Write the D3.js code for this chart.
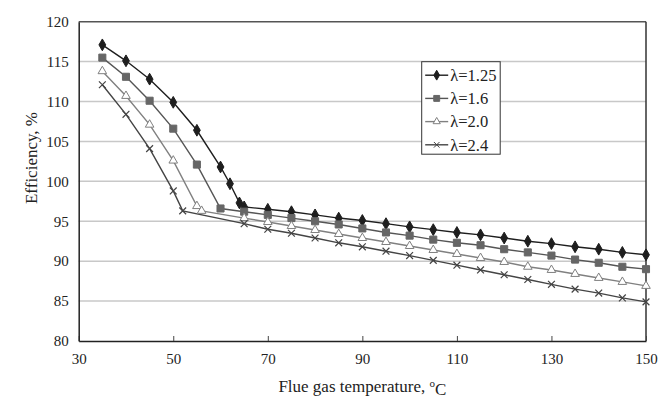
<!DOCTYPE html>
<html>
<head>
<meta charset="utf-8">
<script src="https://cdn.jsdelivr.net/npm/d3@7"></script>
<style>
    body { margin: 0; background: #fff; }
    svg text { font-family: "Liberation Serif", "Times New Roman", serif; fill: #222; }
</style>
</head>
<body>
<svg id="chart" width="659" height="399"></svg>
<script>
// temperatures (x) for each series
var temps125 = [35, 40, 45, 50, 55, 60, 62, 64, 65, 70, 75, 80, 85, 90, 95, 100, 105, 110, 115, 120, 125, 130, 135, 140, 145, 150];
var temps16  = [35, 40, 45, 50, 55, 60, 65, 70, 75, 80, 85, 90, 95, 100, 105, 110, 115, 120, 125, 130, 135, 140, 145, 150];
var temps20  = [35, 40, 45, 50, 55, 56, 65, 70, 75, 80, 85, 90, 95, 100, 105, 110, 115, 120, 125, 130, 135, 140, 145, 150];
var temps24  = [35, 40, 45, 50, 52, 65, 70, 75, 80, 85, 90, 95, 100, 105, 110, 115, 120, 125, 130, 135, 140, 145, 150];

// efficiency (%) values
var eff125 = [117.1, 115.1, 112.8, 109.9, 106.4, 101.8, 99.7, 97.3, 96.8, 96.5, 96.2, 95.8, 95.4, 95.1, 94.7, 94.3, 93.95, 93.6, 93.3, 92.9, 92.5, 92.2, 91.8, 91.5, 91.1, 90.8];
var eff16  = [115.5, 113.1, 110.1, 106.6, 102.1, 96.6, 96.2, 95.8, 95.4, 95.0, 94.6, 94.1, 93.6, 93.2, 92.7, 92.3, 92.0, 91.5, 91.1, 90.7, 90.2, 89.8, 89.3, 89.0];
var eff20  = [113.8, 110.7, 107.1, 102.6, 96.9, 96.3, 95.4, 94.9, 94.4, 93.9, 93.4, 92.9, 92.4, 91.9, 91.4, 90.9, 90.4, 89.9, 89.3, 88.9, 88.4, 87.9, 87.4, 86.9];
var eff24  = [112.1, 108.4, 104.1, 98.8, 96.3, 94.7, 94.0, 93.5, 92.9, 92.3, 91.8, 91.25, 90.7, 90.1, 89.5, 88.9, 88.3, 87.7, 87.1, 86.5, 86.0, 85.4, 84.9];

var seriesNames = ["\u03bb=1.25", "\u03bb=1.6", "\u03bb=2.0", "\u03bb=2.4"];
var xTicks = [30, 50, 70, 90, 110, 130, 150];
var yTicks = [80, 85, 90, 95, 100, 105, 110, 115, 120];

var serif = "'Liberation Serif', 'Times New Roman', serif";
var margin = {top: 21.7, right: 13, bottom: 58, left: 78.7};
var width = 659 - margin.left - margin.right;
var height = 399 - margin.top - margin.bottom;

var series = [
    {name: seriesNames[0], x: temps125, y: eff125, line: "#1e1e1e", symbol: d3.symbolDiamond, size: 40, fill: "#1e1e1e", stroke: "#1e1e1e"},
    {name: seriesNames[1], x: temps16,  y: eff16,  line: "#555",    symbol: d3.symbolSquare,  size: 50, fill: "#666",    stroke: "#666"},
    {name: seriesNames[2], x: temps20,  y: eff20,  line: "#808080", symbol: d3.symbolTriangle, size: 32, fill: "#fff",   stroke: "#808080"},
    {name: seriesNames[3], x: temps24,  y: eff24,  line: "#444",    symbol: d3.symbolX,       size: 32, fill: "none",    stroke: "#444"}
];

var xScale = d3.scaleLinear().domain([30, 150]).range([0, width]);
var yScale = d3.scaleLinear().domain([80, 120]).range([height, 0]);

var svg = d3.select("#chart");
var g = svg.append("g")
    .attr("transform", "translate(" + margin.left + "," + margin.top + ")");

// horizontal gridlines
g.selectAll(".grid")
    .data(yTicks.slice(1, -1))
    .enter().append("line")
    .attr("class", "grid")
    .attr("x1", 0).attr("x2", width)
    .attr("y1", d => yScale(d)).attr("y2", d => yScale(d))
    .style("stroke", "#c8c8c8").style("stroke-width", 1.5);

// frame (top and right)
g.append("line").attr("x1", 0).attr("x2", width).attr("y1", 0).attr("y2", 0)
    .style("stroke", "#555").style("stroke-width", 1.5);
g.append("line").attr("x1", width).attr("x2", width).attr("y1", 0).attr("y2", height)
    .style("stroke", "#333").style("stroke-width", 1.5);

// x axis
var xAxis = d3.axisBottom(xScale).tickValues(xTicks).tickSizeInner(-5).tickSizeOuter(0).tickPadding(12);
var gx = g.append("g")
    .attr("class", "axis axis--x")
    .attr("transform", "translate(0," + height + ")")
    .call(xAxis)
    .attr("font-family", serif)
    .attr("font-size", 15);
gx.select(".domain").style("stroke", "#222").style("stroke-width", 1.5);
gx.selectAll(".tick line").style("stroke", "#444");
gx.selectAll("text").style("fill", "#222");

// y axis
var yAxis = d3.axisLeft(yScale).tickValues(yTicks).tickSize(0).tickPadding(10);
var gy = g.append("g")
    .attr("class", "axis axis--y")
    .call(yAxis)
    .attr("font-family", serif)
    .attr("font-size", 15);
gy.select(".domain").style("stroke", "#222").style("stroke-width", 1.5);
gy.selectAll("text").style("fill", "#222");

// lines
var line = d3.line()
    .x(d => xScale(d[0]))
    .y(d => yScale(d[1]));

series.forEach(s => {
    var pts = s.x.map((t, i) => [t, s.y[i]]);
    g.append("path")
        .datum(pts)
        .attr("d", line)
        .style("fill", "none")
        .style("stroke", s.line)
        .style("stroke-width", 1.4);
});

// markers
series.forEach(s => {
    var pts = s.x.map((t, i) => [t, s.y[i]]);
    g.selectAll(null)
        .data(pts)
        .enter().append("path")
        .attr("transform", d => "translate(" + xScale(d[0]) + "," + yScale(d[1]) + ")")
        .attr("d", d3.symbol().type(s.symbol).size(s.size))
        .style("fill", s.fill)
        .style("stroke", s.stroke)
        .style("stroke-width", s.symbol === d3.symbolX ? 1.2 : 1);
});

// legend
var legendX = 421.7 - margin.left, legendY = 61.7 - margin.top;
var lg = g.append("g").attr("transform", "translate(" + legendX + "," + legendY + ")");
lg.append("rect")
    .attr("width", 78.5).attr("height", 92.5)
    .style("fill", "#fff").style("stroke", "#333").style("stroke-width", 1);

var items = lg.selectAll(".legend")
    .data(series)
    .enter().append("g")
    .attr("class", "legend")
    .attr("transform", (d, i) => "translate(0," + (13.5 + i * 23.2) + ")");

items.append("line")
    .attr("x1", 3.5).attr("x2", 26.5)
    .style("stroke", d => d.line).style("stroke-width", 1.4);
items.append("path")
    .attr("transform", "translate(15,0)")
    .attr("d", d => d3.symbol().type(d.symbol).size(d.size * 0.7)())
    .style("fill", d => d.fill)
    .style("stroke", d => d.stroke);
items.append("text")
    .attr("x", 28.5)
    .attr("dy", "0.35em")
    .attr("font-family", serif)
    .style("font-size", "16.5px")
    .text(d => d.name);

// axis titles
g.append("text")
    .attr("transform", "translate(" + (37 - margin.left) + "," + (158 - margin.top) + ") rotate(-90)")
    .attr("font-family", serif)
    .style("text-anchor", "middle")
    .style("font-size", "17px")
    .text("Efficiency, %");

var xt = g.append("text")
    .attr("x", width / 2)
    .attr("y", height + 51)
    .attr("font-family", serif)
    .style("text-anchor", "middle")
    .style("font-size", "17px");
xt.append("tspan").text("Flue gas temperature, ");
xt.append("tspan").attr("dy", "-0.45em").style("font-size", "11px").text("o");
xt.append("tspan").attr("dy", "0.45em").text("C");
</script>
</body>
</html>
